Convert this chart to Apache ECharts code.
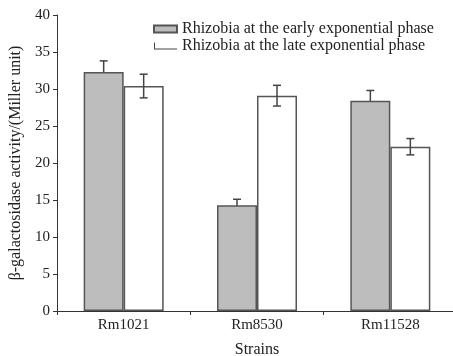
<!DOCTYPE html>
<html>
<head>
<meta charset="utf-8">
<script src="https://cdn.jsdelivr.net/npm/echarts@6/dist/echarts.min.js"></script>
<style>
  html, body { margin: 0; padding: 0; background: #fff; }
  #chart { width: 453px; height: 356px; }
</style>
</head>
<body>
<div id="chart"></div>
<script>
const strains = ['Rm1021', 'Rm8530', 'Rm11528'];
const earlyPhase = [32.3, 14.3, 28.4];
const earlyErr = [1.5, 0.8, 1.4];
const latePhase = [30.4, 29.1, 22.2];
const lateErr = [1.6, 1.4, 1.1];
const yTicks = [0, 5, 10, 15, 20, 25, 30, 35, 40];

const EARLY = 'Rhizobia at the early exponential phase';
const LATE = 'Rhizobia at the late exponential phase';
const font = 'Liberation Serif';
const barW = 40;

// error bars drawn by a custom series, shifted onto each bar
function errorSeries(values, errs, offset, z) {
  return {
    type: 'custom',
    z: z,
    silent: true,
    data: values.map((v, i) => [i, v, errs[i]]),
    renderItem: (params, api) => {
      const c = api.value(0);
      const v = api.value(1);
      const e = api.value(2);
      const x = api.coord([c, v])[0] + offset;
      const hi = api.coord([c, v + e])[1];
      const lo = api.coord([c, v - e])[1];
      const st = { stroke: '#444', lineWidth: 1.5 };
      return {
        type: 'group',
        children: [
          { type: 'line', shape: { x1: x, y1: hi, x2: x, y2: lo }, style: st },
          { type: 'line', shape: { x1: x - 4, y1: hi, x2: x + 4, y2: hi }, style: st },
          { type: 'line', shape: { x1: x - 4, y1: lo, x2: x + 4, y2: lo }, style: st }
        ]
      };
    }
  };
}

const chart = echarts.init(document.getElementById('chart'));
chart.setOption({
  animation: false,
  textStyle: { fontFamily: font, color: '#222' },
  grid: { left: 57, right: -4, top: 15, bottom: 45, outerBoundsMode: 'none', containLabel: false },
  legend: {
    orient: 'vertical',
    left: 148,
    top: 16,
    itemWidth: 23,
    itemHeight: 7,
    itemGap: 1,
    symbolKeepAspect: false,
    textStyle: { fontFamily: font, fontSize: 16, lineHeight: 14, color: '#222' },
    data: [
      { name: EARLY, icon: 'rect' },
      { name: LATE, icon: 'path://M0,0H1V6H23V7H0Z', itemStyle: { color: '#444', borderWidth: 0 } }
    ]
  },
  xAxis: {
    type: 'category',
    data: strains,
    name: 'Strains',
    nameLocation: 'middle',
    nameGap: 31,
    nameTextStyle: { fontFamily: font, fontSize: 16, color: '#222' },
    axisLine: { lineStyle: { color: '#333', width: 1 } },
    axisTick: { show: true, length: 4, lineStyle: { color: '#333' } },
    axisLabel: { fontFamily: font, fontSize: 15, color: '#222', margin: 7 }
  },
  yAxis: {
    type: 'value',
    min: yTicks[0],
    max: yTicks[yTicks.length - 1],
    interval: 5,
    name: 'β-galactosidase activity/(Miller unit)',
    nameLocation: 'middle',
    nameGap: 21,
    nameTextStyle: { fontFamily: font, fontSize: 16, color: '#222' },
    splitLine: { show: false },
    axisLine: { show: true, lineStyle: { color: '#333', width: 1 } },
    axisTick: { show: true, length: 4, lineStyle: { color: '#333' } },
    axisLabel: { fontFamily: font, fontSize: 15, color: '#222', margin: 7 }
  },
  series: [
    {
      name: EARLY,
      type: 'bar',
      data: earlyPhase,
      barWidth: barW,
      barGap: '0%',
      z: 2,
      itemStyle: { color: '#bdbdbd', borderColor: '#555', borderWidth: 1.5 }
    },
    {
      name: LATE,
      type: 'bar',
      data: latePhase,
      barWidth: barW,
      barGap: '0%',
      z: 2,
      itemStyle: { color: '#fff', borderColor: '#555', borderWidth: 1.5 }
    },
    errorSeries(earlyPhase, earlyErr, -barW / 2, 1),
    errorSeries(latePhase, lateErr, barW / 2, 3)
  ]
});
</script>
</body>
</html>
